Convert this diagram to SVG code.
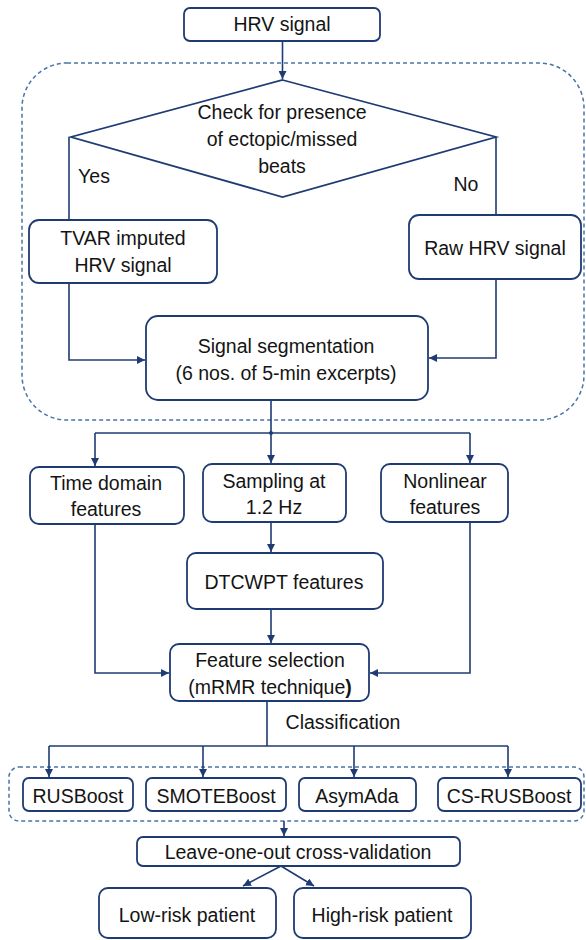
<svg xmlns="http://www.w3.org/2000/svg" width="586" height="940" viewBox="0 0 586 940">
<style>
.box{fill:#fff;stroke:#1f3b73;stroke-width:1.8}
.dash{fill:none;stroke:#4a74a6;stroke-width:1.5;stroke-dasharray:4 3}
.c{fill:none;stroke:#1f3b73;stroke-width:1.6}
text{font-family:"Liberation Sans",Arial,sans-serif;font-size:19.5px;fill:#141414;text-anchor:middle}
</style>
<defs>
<marker id="ah" markerUnits="userSpaceOnUse" markerWidth="9" markerHeight="8" refX="8" refY="4" orient="auto">
<path d="M0,0 L8,4 L0,8 z" fill="#1f3b73"/>
</marker>
</defs>
<rect width="586" height="940" fill="#fff"/>
<g id="containers">
<rect class="dash" x="22" y="63" width="562" height="357" rx="45"/>
<rect class="dash" x="9" y="767" width="575" height="54" rx="10"/>
</g>
<g id="connectors">
<path class="c" d="M282.5,41 V79" marker-end="url(#ah)"/>
<path class="c" d="M69,137 V220"/>
<path class="c" d="M496,137 V215"/>
<path class="c" d="M69,283 V360 H145" marker-end="url(#ah)"/>
<path class="c" d="M496,279 V358 H429" marker-end="url(#ah)"/>
<path class="c" d="M271,400 V433 M95,433 H470"/>
<circle cx="271" cy="433" r="2" fill="#1f3b73"/>
<path class="c" d="M95,433 V466" marker-end="url(#ah)"/>
<path class="c" d="M271,433 V463" marker-end="url(#ah)"/>
<path class="c" d="M470,433 V463" marker-end="url(#ah)"/>
<path class="c" d="M271,522 V552" marker-end="url(#ah)"/>
<path class="c" d="M271,609 V643" marker-end="url(#ah)"/>
<path class="c" d="M95,524 V673 H169" marker-end="url(#ah)"/>
<path class="c" d="M470,522 V673 H370" marker-end="url(#ah)"/>
<path class="c" d="M267,701 V746 M49,746 H508"/>
<path class="c" d="M49,746 V777" marker-end="url(#ah)"/>
<path class="c" d="M203,746 V777" marker-end="url(#ah)"/>
<path class="c" d="M354,746 V777" marker-end="url(#ah)"/>
<path class="c" d="M508,746 V777" marker-end="url(#ah)"/>
<path class="c" d="M284,821 V836" marker-end="url(#ah)"/>
<path class="c" d="M281,866 L243,886" marker-end="url(#ah)"/>
<path class="c" d="M281,866 L314,886" marker-end="url(#ah)"/>
</g>
<g id="labels">
<text x="94" y="183">Yes</text>
<text x="466" y="191">No</text>
<text x="343" y="729">Classification</text>
</g>
<g id="hrv">
<rect class="box" x="184" y="8" width="196" height="33" rx="6"/>
<text x="282" y="31">HRV signal</text>
</g>
<g id="check">
<polygon class="box" points="282.5,80 496,137 282.5,197 71,137"/>
<text x="282" y="119">Check for presence</text>
<text x="282" y="146">of ectopic/missed</text>
<text x="282" y="173">beats</text>
</g>
<g id="tvar">
<rect class="box" x="29" y="220" width="188" height="63" rx="10"/>
<text x="123" y="245">TVAR imputed</text>
<text x="123" y="272">HRV signal</text>
</g>
<g id="raw">
<rect class="box" x="409" y="215" width="172" height="64" rx="10"/>
<text x="495" y="255">Raw HRV signal</text>
</g>
<g id="seg">
<rect class="box" x="146" y="316" width="282" height="84" rx="12"/>
<text x="286" y="353">Signal segmentation</text>
<text x="286" y="380">(6 nos. of 5-min excerpts)</text>
</g>
<g id="time">
<rect class="box" x="30" y="467" width="154" height="57" rx="9"/>
<text x="106" y="490">Time domain</text>
<text x="106" y="516">features</text>
</g>
<g id="sampling">
<rect class="box" x="203" y="464" width="143" height="58" rx="9"/>
<text x="274" y="488">Sampling at</text>
<text x="274" y="514">1.2 Hz</text>
</g>
<g id="nonlinear">
<rect class="box" x="381" y="464" width="127" height="58" rx="9"/>
<text x="445" y="488">Nonlinear</text>
<text x="445" y="514">features</text>
</g>
<g id="dtcwpt">
<rect class="box" x="187" y="553" width="196" height="56" rx="9"/>
<text x="284" y="589">DTCWPT features</text>
</g>
<g id="fs">
<rect class="box" x="170" y="644" width="199" height="57" rx="9"/>
<text x="270" y="667">Feature selection</text>
<text x="270" y="694">(mRMR technique<tspan font-weight="bold">)</tspan></text>
</g>
<g id="rusboost">
<rect class="box" x="23" y="778" width="110" height="33" rx="6"/>
<text x="78" y="803">RUSBoost</text>
</g>
<g id="smoteboost">
<rect class="box" x="146" y="778" width="140" height="33" rx="6"/>
<text x="216" y="803">SMOTEBoost</text>
</g>
<g id="asymada">
<rect class="box" x="299" y="778" width="117" height="33" rx="6"/>
<text x="357" y="803">AsymAda</text>
</g>
<g id="csrusboost">
<rect class="box" x="438" y="778" width="143" height="33" rx="6"/>
<text x="509" y="803">CS-RUSBoost</text>
</g>
<g id="loocv">
<rect class="box" x="137" y="837" width="323" height="29" rx="6"/>
<text x="298" y="859">Leave-one-out cross-validation</text>
</g>
<g id="lowrisk">
<rect class="box" x="99" y="888" width="177" height="50" rx="9"/>
<text x="187" y="922">Low-risk patient</text>
</g>
<g id="highrisk">
<rect class="box" x="294" y="888" width="177" height="50" rx="9"/>
<text x="382" y="922">High-risk patient</text>
</g>
</svg>
